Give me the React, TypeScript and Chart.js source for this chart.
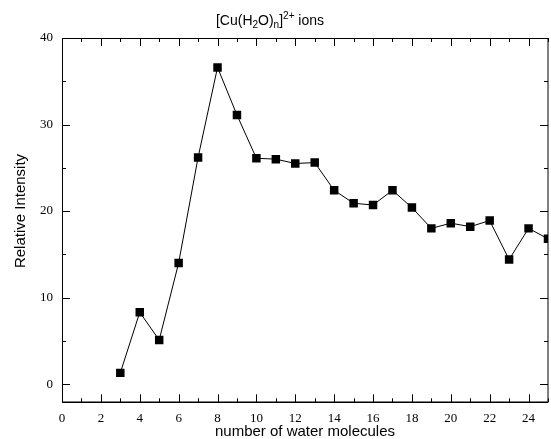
import React, { useEffect, useRef } from "react";
import { Chart, registerables } from "chart.js";

Chart.register(...registerables);

const waterMolecules = [3, 4, 5, 6, 7, 8, 9, 10, 11, 12, 13, 14, 15, 16, 17, 18, 19, 20, 21, 22, 23, 24, 25];
const relativeIntensity = [1.3, 8.3, 5.1, 14.0, 26.2, 36.6, 31.1, 26.1, 26.0, 25.5, 25.6, 22.4, 20.9, 20.7, 22.4, 20.4, 18.0, 18.6, 18.2, 18.9, 14.4, 18.0, 16.8];
const xTickLabels = [0, 2, 4, 6, 8, 10, 12, 14, 16, 18, 20, 22, 24];
const xMinorTicks = [1, 3, 5, 7, 9, 11, 13, 15, 17, 19, 21, 23, 25];
const yTickLabels = [0, 10, 20, 30, 40];
const yMinorTicks = [5, 15, 25, 35];
const xAxisTitle = "number of water molecules";
const yAxisTitle = "Relative Intensity";
const titleParts: [string, string][] = [
  ["[Cu(H", "n"],
  ["2", "sub"],
  ["O)", "n"],
  ["n", "sub"],
  ["]", "n"],
  ["2+", "sup"],
  [" ions", "n"],
];

const SANS = "'Liberation Sans', Arial, sans-serif";
const SERIF = "'Liberation Serif', 'Times New Roman', serif";

const framePlugin = {
  id: "frame",
  afterDraw(chart: any) {
    const ctx = chart.ctx;
    const { left, right, top, bottom } = chart.chartArea;
    const xs = chart.scales.x;
    const ys = chart.scales.y;
    ctx.save();
    ctx.strokeStyle = "#000";
    ctx.lineWidth = 1;
    ctx.beginPath();
    ctx.moveTo(left + 0.5, bottom);
    ctx.lineTo(left + 0.5, top + 0.5);
    ctx.lineTo(right, top + 0.5);
    ctx.lineTo(right, bottom);
    ctx.stroke();
    ctx.lineWidth = 1.6;
    ctx.beginPath();
    ctx.moveTo(left, bottom);
    ctx.lineTo(right, bottom);
    ctx.stroke();
    ctx.lineWidth = 1;
    const tick = (vals: number[], len: number) => {
      vals.forEach((v) => {
        const px = Math.round(xs.getPixelForValue(v)) + 0.5;
        ctx.beginPath();
        ctx.moveTo(px, bottom);
        ctx.lineTo(px, bottom - len);
        ctx.moveTo(px, top);
        ctx.lineTo(px, top + len);
        ctx.stroke();
      });
    };
    tick(xTickLabels, 8);
    tick(xMinorTicks, 4);
    const ytick = (vals: number[], len: number) => {
      vals.forEach((v) => {
        const py = Math.round(ys.getPixelForValue(v)) + 0.5;
        ctx.beginPath();
        ctx.moveTo(left, py);
        ctx.lineTo(left + len, py);
        ctx.moveTo(right, py);
        ctx.lineTo(right - len, py);
        ctx.stroke();
      });
    };
    ytick(yTickLabels, 8);
    ytick(yMinorTicks, 4);

    // axis titles
    ctx.fillStyle = "#000";
    ctx.font = "15px " + SANS;
    ctx.textAlign = "center";
    ctx.textBaseline = "middle";
    ctx.fillText(xAxisTitle, 305, 432);
    ctx.save();
    ctx.translate(21, 211);
    ctx.rotate(-Math.PI / 2);
    ctx.fillText(yAxisTitle, 0, 0);
    ctx.restore();

    // title with sub/superscripts
    const big = "14px " + SANS;
    const small = "10px " + SANS;
    ctx.textAlign = "left";
    ctx.textBaseline = "alphabetic";
    let total = 0;
    titleParts.forEach(([t, k]) => {
      ctx.font = k === "n" ? big : small;
      total += ctx.measureText(t).width;
    });
    let x = 270 - total / 2;
    const base = 25;
    titleParts.forEach(([t, k]) => {
      ctx.font = k === "n" ? big : small;
      const y = k === "sub" ? base + 3 : k === "sup" ? base - 6 : base;
      ctx.fillText(t, x, y);
      x += ctx.measureText(t).width;
    });
    ctx.restore();
  },
};

export default function App() {
  const ref = useRef<HTMLCanvasElement | null>(null);
  useEffect(() => {
    if (!ref.current) return;
    const chart = new Chart(ref.current, {
      type: "line",
      data: {
        datasets: [
          {
            data: waterMolecules.map((x, i) => ({ x, y: relativeIntensity[i] })),
            borderColor: "#000",
            backgroundColor: "#000",
            borderWidth: 1,
            pointStyle: "rect",
            pointRadius: 6,
            pointBorderWidth: 0,
            pointBackgroundColor: "#000",
            tension: 0,
          },
        ],
      },
      options: {
        animation: false,
        responsive: true,
        maintainAspectRatio: false,
        layout: { padding: { top: 38, right: 1.7, left: 0, bottom: 0 } },
        plugins: { legend: { display: false }, tooltip: { enabled: false }, title: { display: false } },
        scales: {
          x: {
            type: "linear",
            min: 0,
            max: 25,
            grid: { display: false, drawTicks: false },
            border: { display: false },
            afterBuildTicks: (s: any) => {
              s.ticks = xTickLabels.map((v) => ({ value: v }));
            },
            afterFit: (s: any) => {
              s.height = 36.7;
            },
            ticks: {
              autoSkip: false,
              maxRotation: 0,
              padding: 8,
              color: "#000",
              font: { family: SERIF, size: 13 },
            },
          },
          y: {
            type: "linear",
            min: -2.1,
            max: 40,
            grid: { display: false, drawTicks: false },
            border: { display: false },
            afterBuildTicks: (s: any) => {
              s.ticks = yTickLabels.map((v) => ({ value: v }));
            },
            afterFit: (s: any) => {
              s.width = 62;
            },
            ticks: {
              padding: 9,
              color: "#000",
              font: { family: SERIF, size: 13 },
            },
          },
        },
      },
      plugins: [framePlugin],
    } as any);
    return () => chart.destroy();
  }, []);
  return (
    <div style={{ position: "fixed", left: 0, top: 0, width: 551, height: 439, overflow: "hidden", background: "#fff" }}>
      <div style={{ position: "relative", width: 554, height: 439 }}>
        <canvas ref={ref} />
      </div>
    </div>
  );
}
